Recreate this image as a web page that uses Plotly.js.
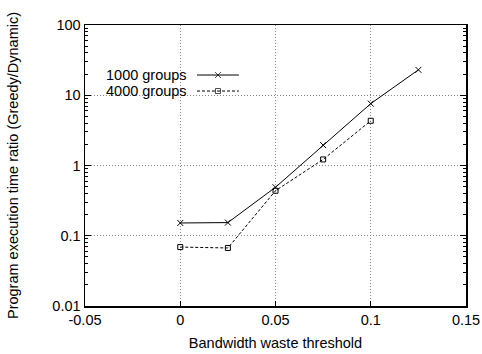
<!DOCTYPE html>
<html><head><meta charset="utf-8">
<script src="https://cdn.plot.ly/plotly-3.0.1.min.js"></script>
<style>html,body{margin:0;padding:0;background:#fff}</style>
</head><body>
<div id="chart" style="width:482px;height:354px"></div>
<script>
const thresholds = [0, 0.025, 0.05, 0.075, 0.1, 0.125];
const groups1000 = [0.152, 0.154, 0.49, 1.95, 7.6, 23.0];
const thresholds4000 = [0, 0.025, 0.05, 0.075, 0.1];
const groups4000 = [0.069, 0.067, 0.437, 1.22, 4.33];
const seriesNames = ['1000 groups', '4000 groups'];
const xTickVals = [-0.05, 0, 0.05, 0.1, 0.15];
const xTickText = ['-0.05', '0', '0.05', '0.1', '0.15'];
const yTickVals = [0.01, 0.1, 1, 10, 100];
const yTickText = ['0.01', '0.1', '1', '10', '100'];

const font = {family: 'Liberation Sans, Arial, sans-serif', size: 14.5, color: '#000'};

const traces = [
  {x: thresholds, y: groups1000, mode: 'lines+markers', name: seriesNames[0],
   line: {color: '#000', width: 1}, marker: {symbol: 'x-thin-open', size: 6, color: '#000', line: {width: 1, color: '#000'}}},
  {x: thresholds4000, y: groups4000, mode: 'lines+markers', name: seriesNames[1],
   line: {color: '#000', width: 1, dash: '3px,2px'}, marker: {symbol: 'square-open', size: 5, color: '#000', line: {width: 1, color: '#000'}}},
  {x: [0.294, 0.349, 0.404], y: [0.822, 0.822, 0.822], xaxis: 'x2', yaxis: 'y2', mode: 'lines+markers',
   line: {color: '#000', width: 1}, marker: {symbol: 'x-thin-open', size: [0, 6, 0], color: '#000', line: {width: 1, color: '#000'}}, hoverinfo: 'skip'},
  {x: [0.294, 0.349, 0.404], y: [0.765, 0.765, 0.765], xaxis: 'x2', yaxis: 'y2', mode: 'lines+markers',
   line: {color: '#000', width: 1, dash: '3px,2px'}, marker: {symbol: 'square-open', size: [0, 5, 0], color: '#000', line: {width: 1, color: '#000'}}, hoverinfo: 'skip'}
];

const layout = {
  width: 482, height: 354,
  margin: {l: 85, r: 16, t: 25, b: 48},
  paper_bgcolor: '#fff', plot_bgcolor: '#fff',
  showlegend: false,
  font: font,
  xaxis: {
    range: [-0.05, 0.15], tickvals: xTickVals, ticktext: xTickText,
    showline: true, linecolor: '#000', linewidth: 1.5, mirror: true,
    ticks: 'inside', ticklen: 5, tickcolor: '#000',
    showgrid: true, gridcolor: '#888', griddash: '1px,2px', gridwidth: 1,
    zeroline: false,
    title: {text: 'Bandwidth waste threshold', font: font, standoff: 11},
    tickfont: font
  },
  yaxis: {
    type: 'log', range: [-2, 2], tickmode: 'array', tickvals: yTickVals, ticktext: yTickText,
    showline: true, linecolor: '#000', linewidth: 1.5, mirror: 'allticks',
    ticks: 'inside', ticklen: 6, tickcolor: '#000',
    showgrid: true, gridcolor: '#888', griddash: '1px,2px', gridwidth: 1,
    zeroline: false,
    minor: {tickmode: 'linear', dtick: 'D1', ticks: 'inside', ticklen: 3, tickcolor: '#000', tickwidth: 1, showgrid: false},
    title: {text: 'Program execution time ratio (Greedy/Dynamic)', font: font, standoff: 30},
    tickfont: font
  },
  xaxis2: {overlaying: 'x', range: [0, 1], visible: false, fixedrange: true},
  yaxis2: {overlaying: 'y', range: [0, 1], visible: false, fixedrange: true},
  shapes: [
    {type: 'rect', xref: 'paper', yref: 'paper', x0: 0.004, x1: 0.428, y0: 0.738, y1: 0.76,
     fillcolor: '#fff', line: {width: 0}, layer: 'between'}
  ],
  annotations: [
    {xref: 'paper', yref: 'paper', x: 0.273, y: 0.822, xanchor: 'right', yanchor: 'middle', text: seriesNames[0], showarrow: false, font: font},
    {xref: 'paper', yref: 'paper', x: 0.273, y: 0.765, xanchor: 'right', yanchor: 'middle', text: seriesNames[1], showarrow: false, font: font}
  ]
};

Plotly.newPlot('chart', traces, layout, {displayModeBar: false, staticPlot: true});
</script>
</body></html>
